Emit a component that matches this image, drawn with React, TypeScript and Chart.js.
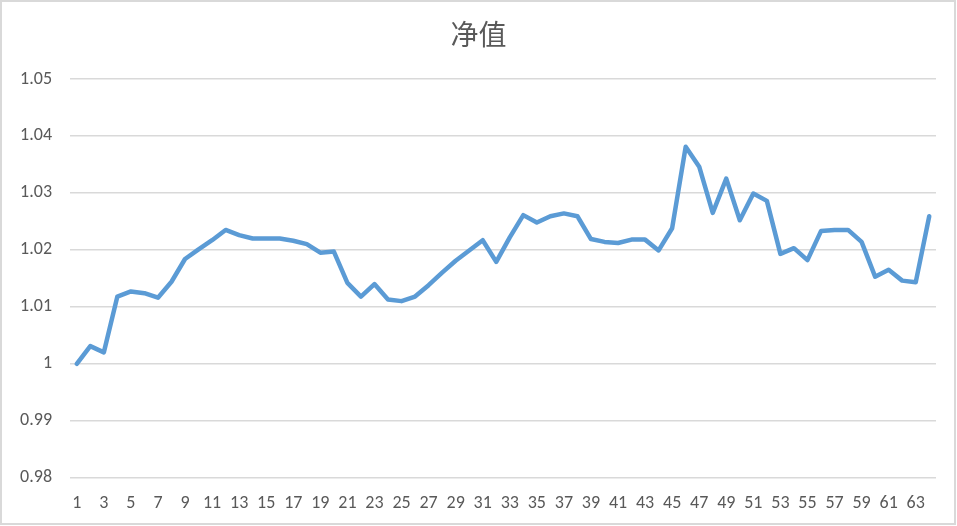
import React, { useEffect, useRef } from "react";
import { Chart, registerables } from "chart.js";

Chart.register(...registerables);

const categories: string[] = [
  "1", "2", "3", "4", "5", "6", "7", "8", "9", "10",
  "11", "12", "13", "14", "15", "16", "17", "18", "19", "20",
  "21", "22", "23", "24", "25", "26", "27", "28", "29", "30",
  "31", "32", "33", "34", "35", "36", "37", "38", "39", "40",
  "41", "42", "43", "44", "45", "46", "47", "48", "49", "50",
  "51", "52", "53", "54", "55", "56", "57", "58", "59", "60",
  "61", "62", "63", "64",
];

const netValue: number[] = [
  1.0000, 1.0031, 1.0020, 1.0118, 1.0127, 1.0124, 1.0116, 1.0144, 1.0184, 1.0201,
  1.0217, 1.0235, 1.0226, 1.0220, 1.0220, 1.0220, 1.0216, 1.0210, 1.0195, 1.0197,
  1.0142, 1.0118, 1.0140, 1.0113, 1.0110, 1.0118, 1.0138, 1.0160, 1.0181, 1.0199,
  1.0217, 1.0179, 1.0222, 1.0261, 1.0248, 1.0259, 1.0264, 1.0259, 1.0219, 1.0214,
  1.0212, 1.0218, 1.0218, 1.0199, 1.0238, 1.0381, 1.0346, 1.0265, 1.0325, 1.0252,
  1.0299, 1.0286, 1.0193, 1.0203, 1.0182, 1.0233, 1.0235, 1.0235, 1.0214, 1.0153,
  1.0165, 1.0146, 1.0143, 1.0259,
];

const yTicks: number[] = [0.98, 0.99, 1.0, 1.01, 1.02, 1.03, 1.04, 1.05];
const yTickLabels: string[] = ["0.98", "0.99", "1", "1.01", "1.02", "1.03", "1.04", "1.05"];

const titleText = "净值";

const TEXT = "#595959";
const GRID = "#d9d9d9";
const LINE = "#5B9BD5";
const FONT = "Calibri, Carlito, 'Liberation Sans', Arial, sans-serif";

export default function App() {
  const ref = useRef<HTMLCanvasElement | null>(null);

  useEffect(() => {
    if (!ref.current) return;
    const chart = new Chart(ref.current, {
      type: "line",
      data: {
        labels: categories,
        datasets: [
          {
            label: titleText,
            data: netValue,
            borderColor: LINE,
            backgroundColor: LINE,
            borderWidth: 4.5,
            pointRadius: 0,
            pointHoverRadius: 0,
            tension: 0,
            fill: false,
            borderJoinStyle: "round",
            borderCapStyle: "round",
          },
        ],
      },
      options: {
        responsive: false,
        animation: false,
        devicePixelRatio: 1,
        layout: { padding: { left: 0, right: 0, top: 0, bottom: 0 } },
        plugins: {
          legend: { display: false },
          tooltip: { enabled: false },
          title: {
            display: true,
            text: titleText,
            color: TEXT,
            font: { family: "'Noto Sans CJK SC', sans-serif", size: 28, weight: "normal", lineHeight: 1.2 },
            padding: { top: 18, bottom: 27.4 },
          },
        },
        scales: {
          x: {
            type: "category",
            offset: true,
            grid: { display: false, drawTicks: false },
            border: { display: false },
            ticks: {
              autoSkip: false,
              maxRotation: 0,
              minRotation: 0,
              padding: 15,
              color: TEXT,
              font: { family: FONT, size: 18 },
              callback: (_v: any, i: number) => (i % 2 === 0 ? categories[i] : ""),
            },
            afterFit: (s: any) => {
              s.height = 48.3;
            },
          },
          y: {
            type: "linear",
            position: "left",
            min: 0.98,
            max: 1.05,
            afterBuildTicks: (s: any) => {
              s.ticks = yTicks.map((v) => ({ value: v }));
            },
            grid: { color: GRID, lineWidth: 1.5, drawTicks: false },
            border: { display: false },
            ticks: {
              padding: 18,
              color: TEXT,
              font: { family: FONT, size: 18 },
              callback: (v: any) => {
                const idx = yTicks.findIndex((t) => Math.abs(t - Number(v)) < 1e-9);
                return idx >= 0 ? yTickLabels[idx] : "";
              },
            },
            afterFit: (s: any) => {
              s.width = 70;
            },
          },
          yRight: {
            type: "linear",
            position: "right",
            display: true,
            grid: { display: false, drawTicks: false },
            border: { display: false },
            ticks: { display: false },
            afterFit: (s: any) => {
              s.width = 21;
            },
          },
        },
      },
    });
    return () => chart.destroy();
  }, []);

  return (
    <div style={{ position: "fixed", left: 0, top: 0, width: 957, height: 526, background: "#ffffff" }}>
      <canvas ref={ref} width={957} height={526} style={{ position: "absolute", left: 0, top: 0, width: 957, height: 526 }} />
      <div
        style={{
          position: "absolute",
          left: 0,
          top: 0,
          width: 956,
          height: 525,
          border: `2px solid ${GRID}`,
          boxSizing: "border-box",
          pointerEvents: "none",
        }}
      />
    </div>
  );
}
